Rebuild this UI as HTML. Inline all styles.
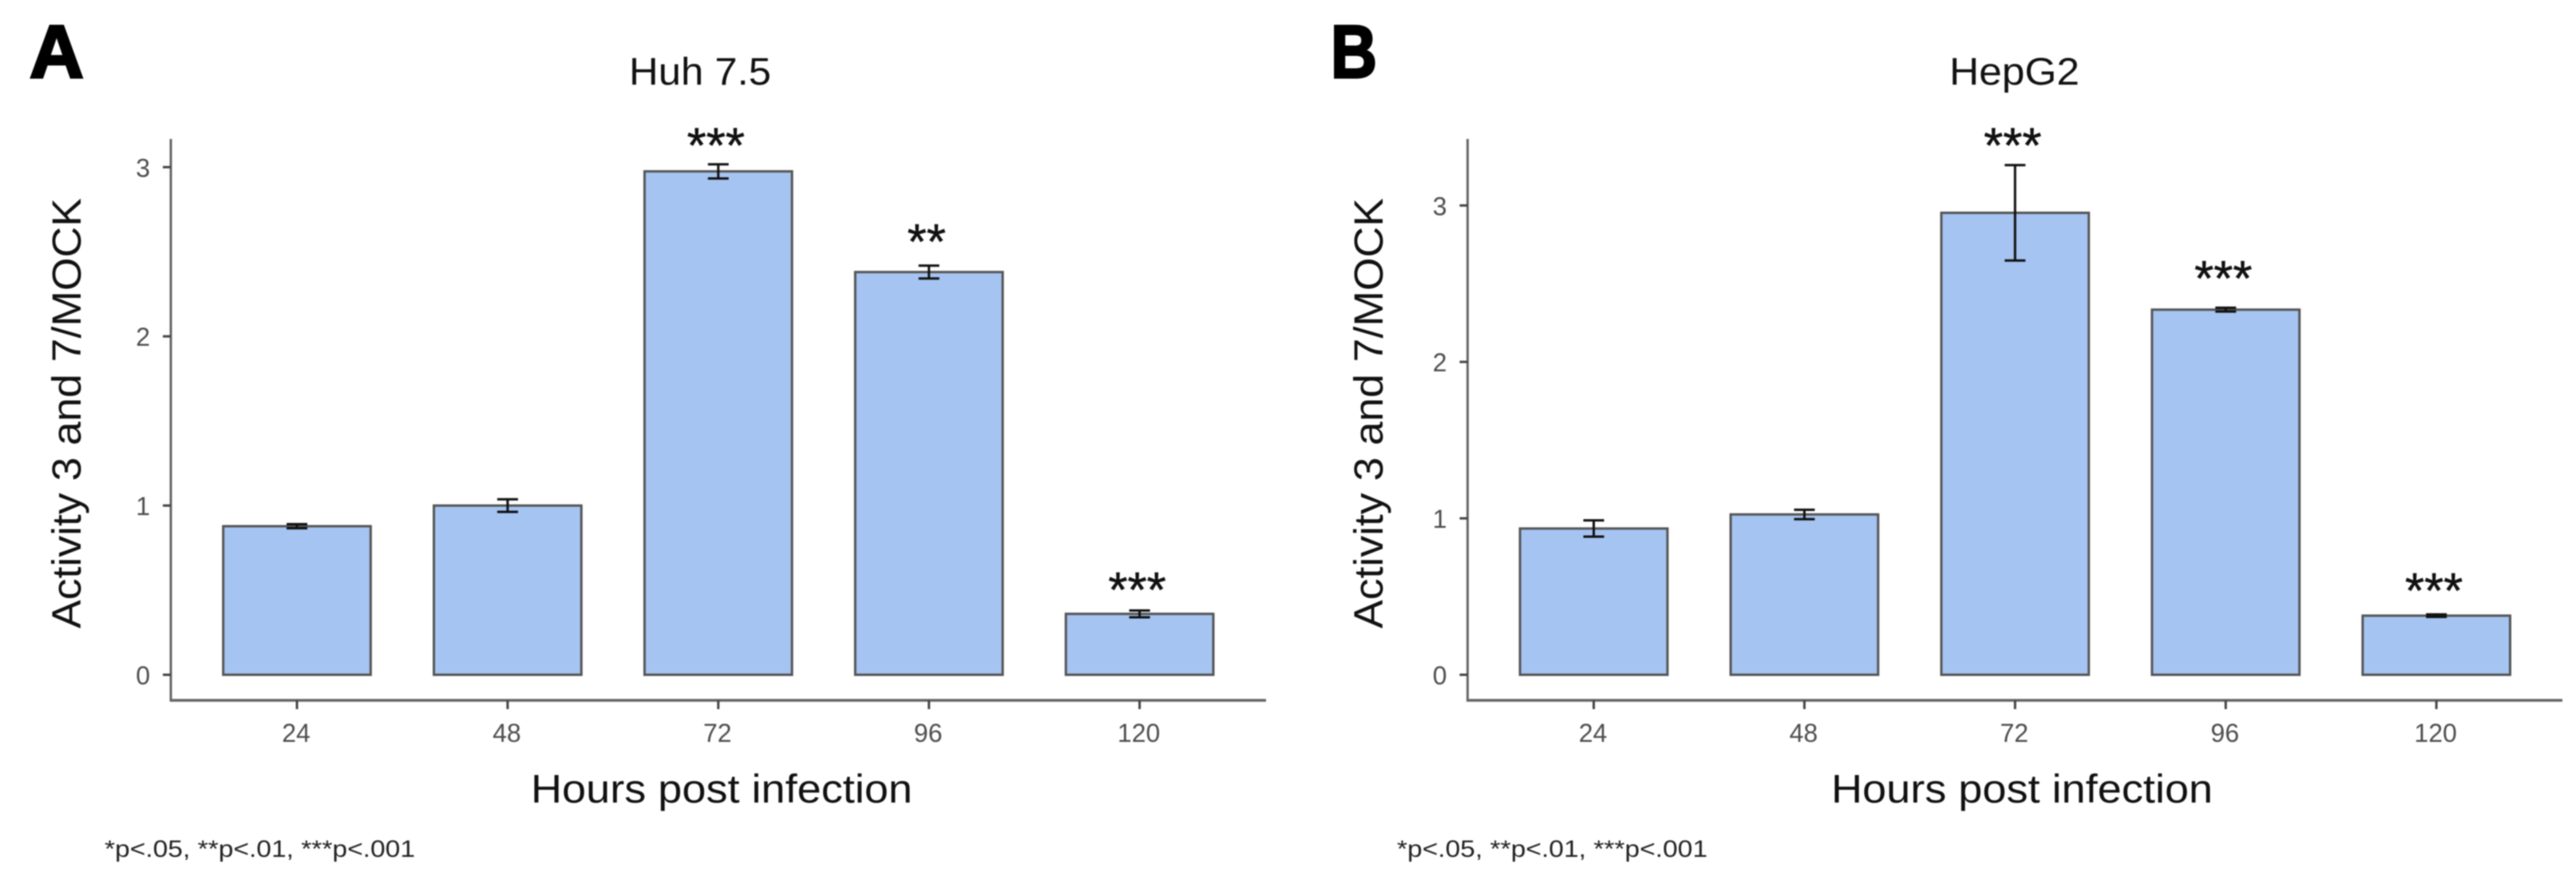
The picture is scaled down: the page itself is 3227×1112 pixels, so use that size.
<!DOCTYPE html>
<html lang="en">
<head>
<meta charset="utf-8">
<title>Activity 3 and 7 / MOCK: Huh 7.5 and HepG2</title>
<style>
  html, body { margin: 0; padding: 0; background: #fff; width: 3227px; height: 1112px; overflow: hidden; }
  svg { display: block; filter: blur(0.7px); }
  text { font-family: "Liberation Sans", sans-serif; }
</style>
</head>
<body>
<svg id="figure" xmlns="http://www.w3.org/2000/svg" width="3227" height="1112" viewBox="0 0 3227 1112">
  <rect x="0" y="0" width="3227" height="1112" fill="#fff"/>
  <text x="37" y="97" font-size="94" font-weight="700" fill="#000" stroke="#000" stroke-width="3">A</text>
  <text x="1667" y="97" font-size="94" font-weight="700" fill="#000" stroke="#000" stroke-width="3" textLength="58" lengthAdjust="spacingAndGlyphs">B</text>
  <text x="788" y="106" font-size="48" fill="#111" textLength="178" lengthAdjust="spacingAndGlyphs">Huh 7.5</text>
  <text x="2442" y="106" font-size="48" fill="#111" textLength="163" lengthAdjust="spacingAndGlyphs">HepG2</text>
  <text transform="translate(101 787) rotate(-90)" font-size="51" fill="#111" textLength="539" lengthAdjust="spacingAndGlyphs">Activity 3 and 7/MOCK</text>
  <text transform="translate(1732 787) rotate(-90)" font-size="51" fill="#111" textLength="539" lengthAdjust="spacingAndGlyphs">Activity 3 and 7/MOCK</text>
  <text x="665" y="1005" font-size="50" fill="#111" textLength="478" lengthAdjust="spacingAndGlyphs">Hours post infection</text>
  <text x="2294" y="1005" font-size="50" fill="#111" textLength="478" lengthAdjust="spacingAndGlyphs">Hours post infection</text>
  <text x="131" y="1073" font-size="30" fill="#222" textLength="389" lengthAdjust="spacingAndGlyphs">*p&lt;.05, **p&lt;.01, ***p&lt;.001</text>
  <text x="1750" y="1073" font-size="30" fill="#222" textLength="389" lengthAdjust="spacingAndGlyphs">*p&lt;.05, **p&lt;.01, ***p&lt;.001</text>
  <g id="panel-a"></g>
  <g id="panel-b"></g>
</svg>
<script>
// Shared categories
const hours = ["24", "48", "72", "96", "120"];

// Panel A: Huh 7.5
const huhTicks = [0, 1, 2, 3];
const huhValues = [0.878, 1.0, 2.975, 2.38, 0.36];
const huhErrors = [0.012, 0.037, 0.042, 0.038, 0.02];
const huhStars = ["", "", "***", "**", "***"];
const huhStarHeights = [0, 0, 3.173, 2.605, 0.548];

// Panel B: HepG2
const hepTicks = [0, 1, 2, 3];
const hepValues = [0.935, 1.025, 2.953, 2.334, 0.378];
const hepErrors = [0.052, 0.03, 0.305, 0.012, 0.008];
const hepStars = ["", "", "***", "***", "***"];
const hepStarHeights = [0, 0, 3.432, 2.584, 0.586];

const NS = "http://www.w3.org/2000/svg";
const AXIS = "#666666", EDGE = "#555555", FILL = "#a5c4f1", ERR = "#111111", TICKTXT = "#4d4d4d";

function make(tag, attrs, parent) {
  const el = document.createElementNS(NS, tag);
  for (const k in attrs) el.setAttribute(k, attrs[k]);
  parent.appendChild(el);
  return el;
}

function drawPanel(root, frame, ticks, values, errors, stars, starHeights) {
  const xScale = i => frame.firstX + i * frame.step;
  const yScale = v => frame.zeroY - v * frame.unit;
  const barW = frame.step * 0.7;
  const capW = 26;

  const yAxis = make("line", { x1: frame.left, x2: frame.left, y1: frame.top, y2: frame.axisY + 1.5, stroke: AXIS, "stroke-width": 3 }, root);
  
  

  const xAxis = make("line", { x1: frame.left - 1.5, x2: frame.right, y1: frame.axisY, y2: frame.axisY, stroke: AXIS, "stroke-width": 3.5 }, root);
  
  

  ticks.forEach(t => {
    const mark = make("line", { x1: frame.left - 10, x2: frame.left, y1: yScale(t), y2: yScale(t), stroke: "#444", "stroke-width": 3 }, root);
    
    
    const label = make("text", { x: frame.left - 26, y: yScale(t) + 12, "text-anchor": "end", "font-size": 32, fill: TICKTXT }, root);
    
    
    label.textContent = String(t);
  });

  hours.forEach((h, i) => {
    const cx = xScale(i);
    const mark = make("line", { x1: cx, x2: cx, y1: frame.axisY, y2: frame.axisY + 11, stroke: "#444", "stroke-width": 3 }, root);
    
    
    const label = make("text", { x: cx - 1, y: 929, "text-anchor": "middle", "font-size": 32, fill: TICKTXT }, root);
    
    
    label.textContent = h;

    const bar = make("rect", { x: cx - barW / 2, y: yScale(values[i]), width: barW, height: yScale(0) - yScale(values[i]), fill: FILL, stroke: EDGE, "stroke-width": 3 }, root);
    
    

    const hi = yScale(values[i] + errors[i]);
    const lo = yScale(values[i] - errors[i]);
    const stem = make("line", { x1: cx, x2: cx, y1: hi, y2: lo, stroke: ERR, "stroke-width": 3 }, root);
    
    
    const capTop = make("line", { x1: cx - capW / 2, x2: cx + capW / 2, y1: hi, y2: hi, stroke: ERR, "stroke-width": 3 }, root);
    
    
    const capBottom = make("line", { x1: cx - capW / 2, x2: cx + capW / 2, y1: lo, y2: lo, stroke: ERR, "stroke-width": 3 }, root);
    
    

    if (stars[i]) {
      const star = make("text", { x: cx - 3, y: yScale(starHeights[i]) + 31, "text-anchor": "middle", "font-size": 62, fill: "#111", stroke: "#111", "stroke-width": 0.6 }, root);
      
      
      star.textContent = stars[i];
    }
  });
}

drawPanel(document.getElementById("panel-a"),
  { left: 214, right: 1586, top: 174, axisY: 877, firstX: 372, step: 263.9, zeroY: 845, unit: 211.9 },
  huhTicks, huhValues, huhErrors, huhStars, huhStarHeights);

drawPanel(document.getElementById("panel-b"),
  { left: 1838.5, right: 3210, top: 174, axisY: 877, firstX: 1996.5, step: 263.9, zeroY: 845, unit: 195.9 },
  hepTicks, hepValues, hepErrors, hepStars, hepStarHeights);
</script>
</body>
</html>
